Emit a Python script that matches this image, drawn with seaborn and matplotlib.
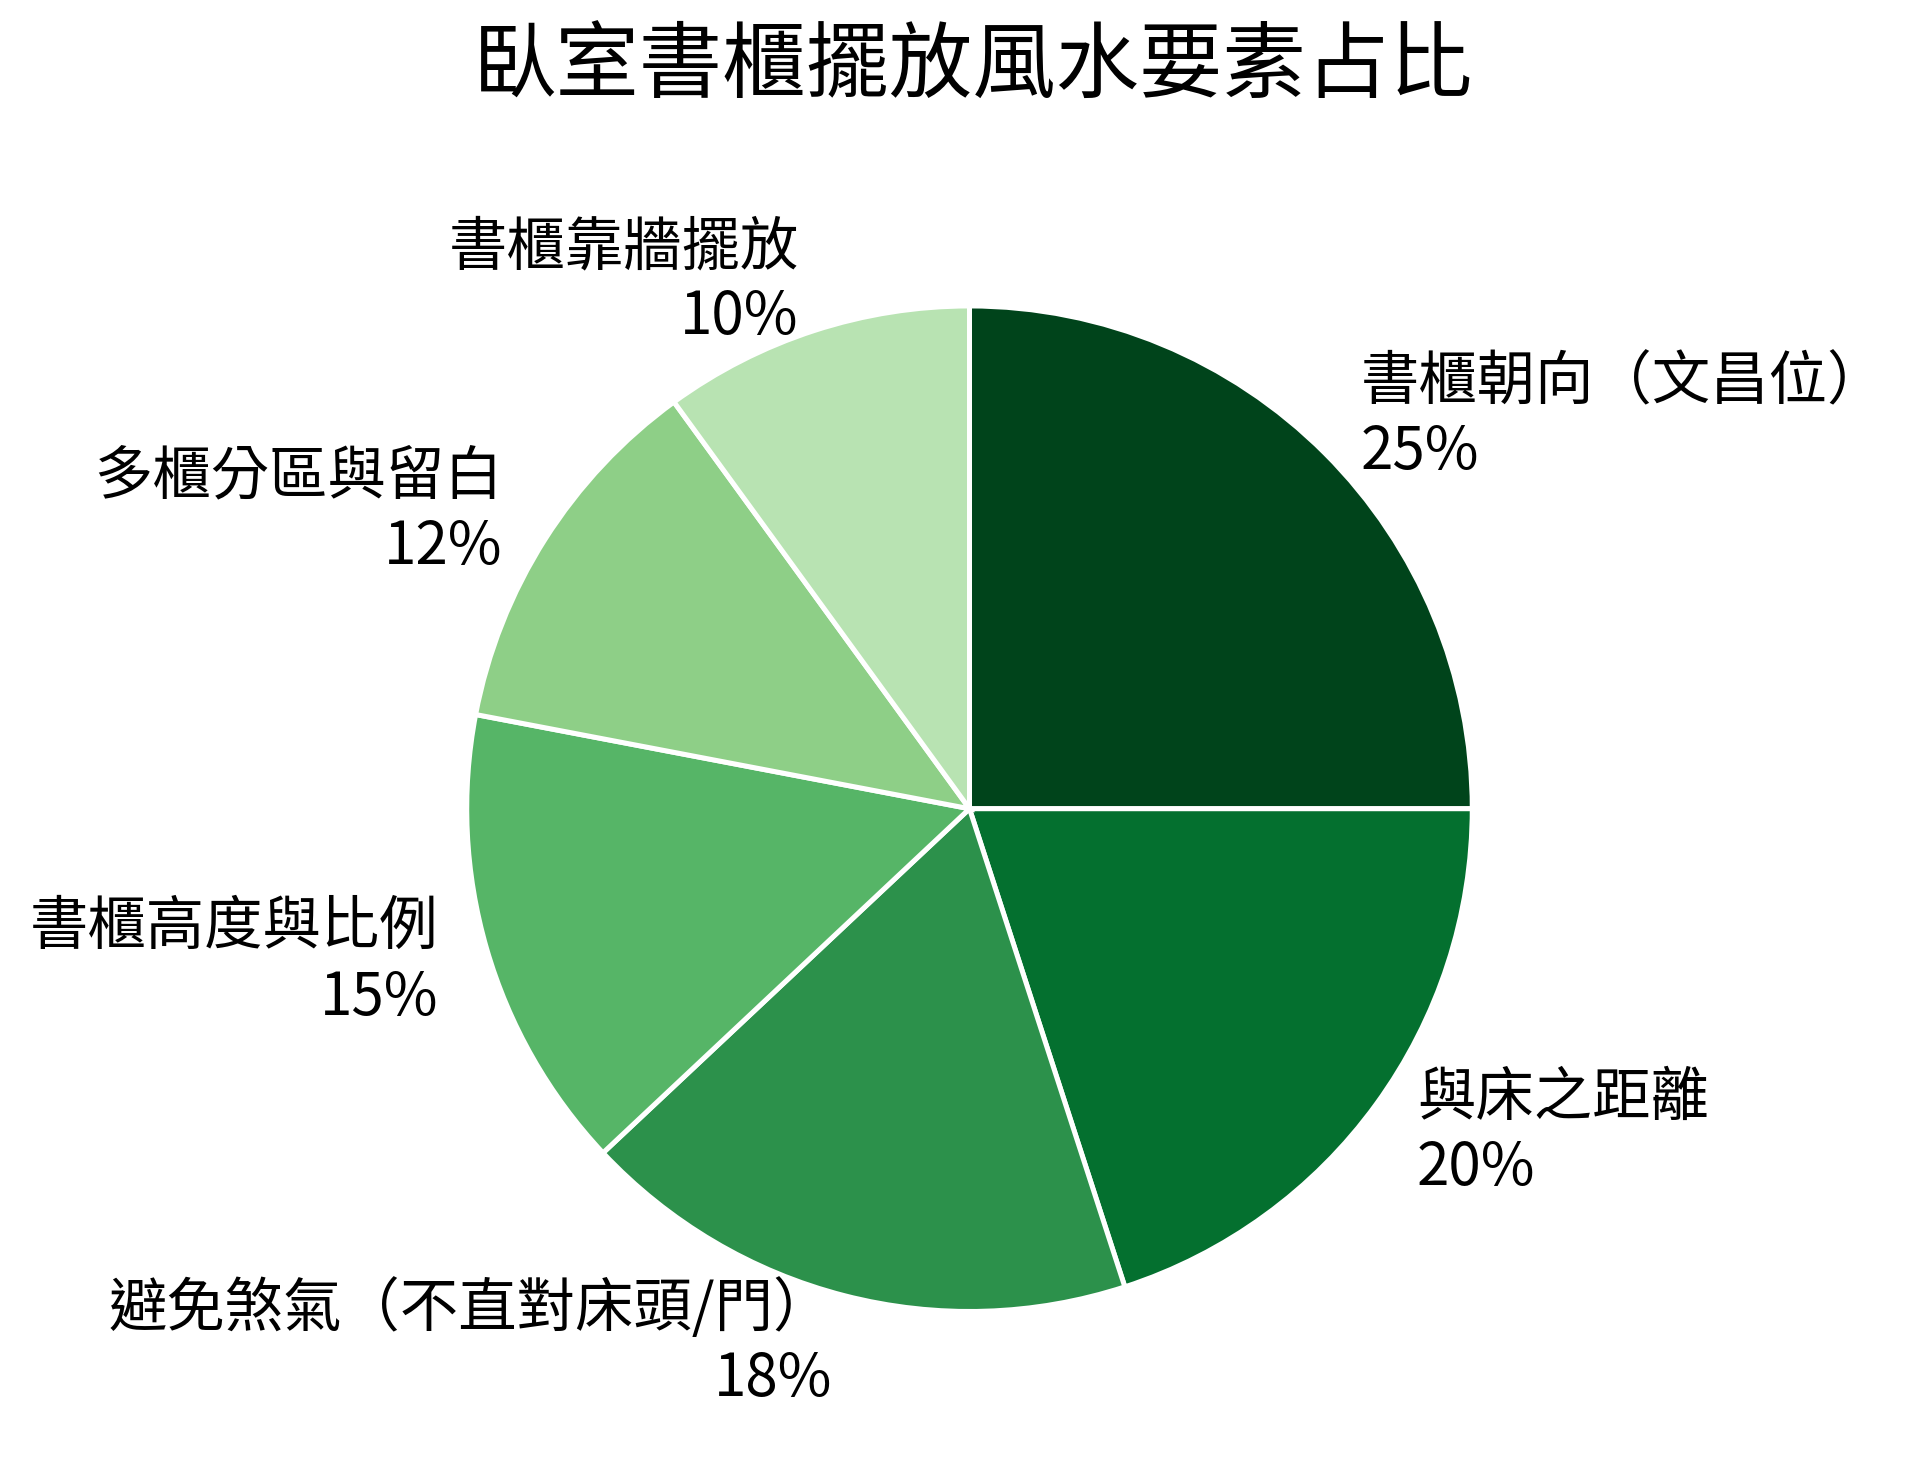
import numpy as np
import seaborn as sns
import matplotlib.pyplot as plt

# Dados do gráfico
categorias = ['書櫃朝向（文昌位）', '與床之距離', '避免煞氣（不直對床頭/門）',
              '書櫃高度與比例', '多櫃分區與留白', '書櫃靠牆擺放']
valores = [25, 20, 18, 15, 12, 10]
cores = ['#00441b', '#04702f', '#2c914b', '#56b567', '#8ecf87', '#b8e3b2']
titulo = '臥室書櫃擺放風水要素占比'

sns.set_theme(style='white')
plt.rcParams['font.family'] = ['Noto Sans CJK TC', 'DejaVu Sans']

fig = plt.figure(figsize=(9.58, 7.34), dpi=200)
ax = fig.add_axes([0.178, 0.0206, 0.656, 0.857])

rotulos = [f'{c}\n{v}%' for c, v in zip(categorias, valores)]
wedges, textos = ax.pie(valores, labels=rotulos, colors=cores, startangle=90,
                        counterclock=False, labeldistance=1.1,
                        wedgeprops=dict(edgecolor='white', linewidth=1.8),
                        textprops=dict(fontsize=21, color='black'))
ax.set_xlim(-1.25, 1.25)
ax.set_ylim(-1.25, 1.25)
ax.set_aspect('equal')
ax.axis('off')

fig.text(0.508, 0.954, titulo, ha='center', va='center', fontsize=30, color='black')

fig.savefig('out.png', dpi=200, facecolor='white')
